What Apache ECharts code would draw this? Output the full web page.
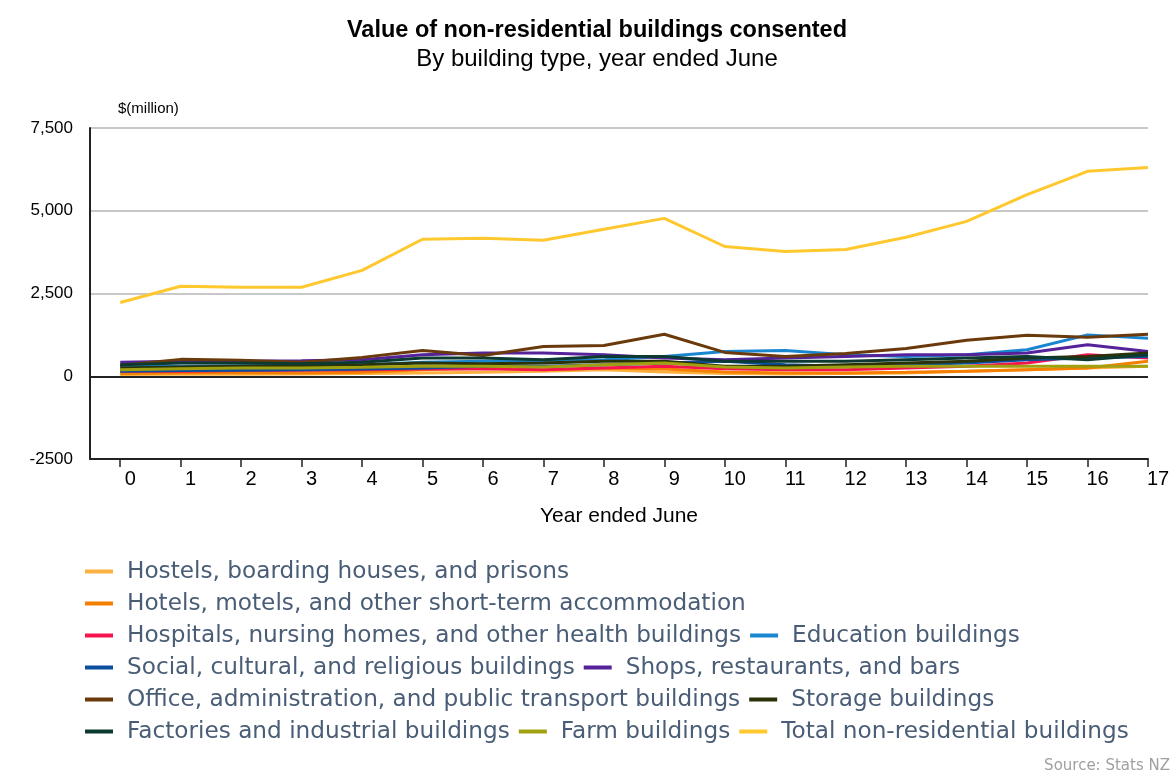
<!DOCTYPE html>
<html>
<head>
<meta charset="utf-8">
<script src="https://cdn.jsdelivr.net/npm/echarts@6/dist/echarts.min.js"></script>
<style>
  html, body { margin: 0; background: #fff; }
  #chart { width: 1176px; height: 776px; }
</style>
</head>
<body>
<div id="chart"></div>
<script>
// years ended June (00 .. 17)
const years = [0, 1, 2, 3, 4, 5, 6, 7, 8, 9, 10, 11, 12, 13, 14, 15, 16, 17];
const yTicks = [-2500, 0, 2500, 5000, 7500];

// $(million)
const hostels    = [50, 60, 60, 70, 80, 100, 120, 150, 200, 130, 80, 70, 80, 100, 150, 200, 250, 300];
const hotels     = [80, 100, 110, 100, 120, 200, 250, 200, 250, 220, 130, 100, 100, 120, 150, 200, 250, 450];
const hospitals  = [150, 150, 170, 180, 200, 220, 230, 200, 250, 300, 230, 200, 200, 250, 300, 400, 650, 550];
const education  = [300, 300, 320, 320, 350, 420, 450, 450, 500, 600, 750, 780, 650, 600, 650, 800, 1250, 1150];
const social     = [150, 170, 180, 200, 220, 250, 300, 300, 350, 400, 450, 350, 300, 350, 400, 500, 550, 600];
const shops      = [420, 450, 450, 470, 500, 650, 700, 700, 650, 550, 500, 550, 600, 650, 650, 700, 950, 750];
const office     = [330, 510, 480, 420, 570, 780, 630, 900, 930, 1270, 720, 600, 690, 840, 1090, 1240, 1180, 1270];
const storage    = [250, 280, 300, 320, 350, 400, 380, 400, 450, 450, 300, 300, 350, 400, 450, 550, 600, 700];
const factories  = [350, 400, 400, 380, 420, 550, 550, 500, 600, 600, 450, 450, 450, 500, 550, 600, 500, 650];
const farm       = [200, 230, 250, 250, 270, 300, 300, 280, 350, 400, 280, 250, 280, 300, 300, 300, 300, 300];
const total      = [2230, 2720, 2690, 2690, 3200, 4140, 4170, 4110, 4440, 4770, 3920, 3770, 3830, 4200, 4680, 5490, 6190, 6310];

const seriesDefs = [
  { name: "Hostels, boarding houses, and prisons", data: hostels, color: "#fbb040" },
  { name: "Hotels, motels, and other short-term accommodation", data: hotels, color: "#f57f00" },
  { name: "Hospitals, nursing homes, and other health buildings", data: hospitals, color: "#f5144e" },
  { name: "Education buildings", data: education, color: "#1a86d0" },
  { name: "Social, cultural, and religious buildings", data: social, color: "#0a4f9e" },
  { name: "Shops, restaurants, and bars", data: shops, color: "#55229a" },
  { name: "Office, administration, and public transport buildings", data: office, color: "#6b3a0c" },
  { name: "Storage buildings", data: storage, color: "#2a3308" },
  { name: "Factories and industrial buildings", data: factories, color: "#0c3a30" },
  { name: "Farm buildings", data: farm, color: "#a0a010" },
  { name: "Total non-residential buildings", data: total, color: "#ffc82e" },
];

const chart = echarts.init(document.getElementById("chart"));

const series = seriesDefs.map((s, i) => ({
  name: s.name,
  type: "line",
  data: s.data.map((v, k) => [years[k], v]),
  showSymbol: false,
  symbol: "none",
  lineStyle: { width: 3, color: s.color },
  itemStyle: { color: s.color },
  z: 2,
  // zero line across the plot
  markLine: i === 0 ? {
    silent: true,
    symbol: "none",
    label: { show: false },
    lineStyle: { color: "#222", width: 2, type: "solid" },
    data: [{ yAxis: 0 }],
    z: 1,
  } : undefined,
}));

chart.setOption({
  animation: false,
  backgroundColor: "#fff",
  title: {
    text: "Value of non-residential buildings consented",
    subtext: "By building type, year ended June",
    left: 592,
    textAlign: "center",
    top: 14,
    itemGap: 4,
    textStyle: { fontFamily: "Liberation Sans", fontSize: 23.5, fontWeight: "bold", color: "#000" },
    subtextStyle: { fontFamily: "Liberation Sans", fontSize: 24, color: "#000" },
  },
  grid: { left: 90, right: 28, top: 128, bottom: 317 },
  xAxis: {
    type: "value",
    min: -0.5,
    max: 17,
    name: "Year ended June",
    nameLocation: "middle",
    nameGap: 47,
    nameTextStyle: { fontFamily: "Liberation Sans", fontSize: 21, color: "#000" },
    axisLine: { onZero: false, lineStyle: { color: "#222", width: 2 } },
    axisTick: { show: true, customValues: years, length: 8, lineStyle: { color: "#222", width: 1.5 } },
    axisLabel: {
      customValues: years,
      margin: 10,
      padding: [0, 0, 0, 20],
      fontFamily: "Liberation Sans",
      fontSize: 20,
      color: "#000",
    },
    splitLine: { show: false },
  },
  yAxis: {
    type: "value",
    min: -2500,
    max: 7500,
    interval: 2500,
    name: "$(million)",
    nameLocation: "end",
    nameGap: 12,
    nameTextStyle: { align: "left", padding: [0, 0, 0, 28], fontFamily: "Liberation Sans", fontSize: 15, color: "#000" },
    axisLine: { show: true, onZero: false, lineStyle: { color: "#222", width: 2 } },
    axisTick: { show: false },
    axisLabel: {
      margin: 17,
      fontFamily: "Liberation Sans", fontSize: 17, color: "#000",
      formatter: (v) => (v < 0 ? String(v) : v.toLocaleString("en-US")),
    },
    splitLine: { show: true, lineStyle: { color: "#c8c8c8", width: 2 } },
  },
  legend: {
    data: seriesDefs.map((s) => s.name),
    left: 80,
    right: 6,
    top: 555,
    orient: "horizontal",
    icon: "rect",
    itemWidth: 28,
    itemHeight: 4,
    itemGap: 9,
    textStyle: { fontFamily: "DejaVu Sans", fontSize: 23.2, color: "#4a5d76", padding: [0, 0, 0, 9] },
  },
  graphic: [{
    type: "text",
    right: 6,
    bottom: 2,
    style: { text: "Source: Stats NZ", fontFamily: "DejaVu Sans", fontSize: 15, fill: "#a0a0a0" },
  }],
  series: series,
});
</script>
</body>
</html>
